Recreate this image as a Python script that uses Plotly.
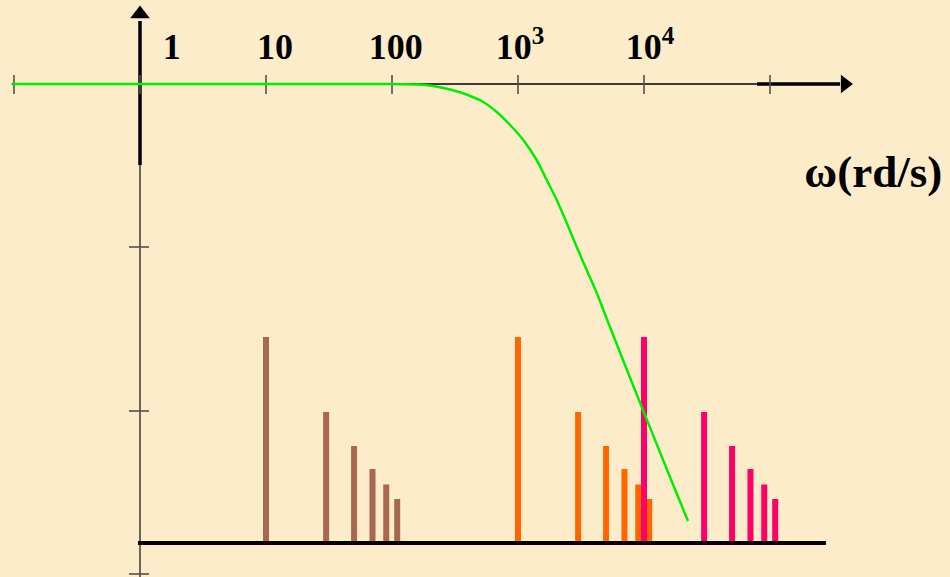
import plotly.graph_objects as go

# ---------------- data ----------------
# harmonic frequencies (rd/s) of the three spectra
freq_brown = [10, 30, 50, 70, 90, 110]
freq_orange = [1000, 3000, 5000, 7000, 9000, 11000]
freq_pink = [10000, 30000, 50000, 70000, 90000, 110000]
# harmonic amplitudes (arbitrary units, same for the three spectra)
amplitudes = [2.06, 1.31, 0.97, 0.74, 0.585, 0.44]

# low-pass filter response curve (frequency, level)
curve_freq = [0.097, 80, 160, 211, 300, 400, 530, 678, 865, 1101, 1406, 1690, 2028,
              2438, 2924, 3508, 4217, 5370, 8790, 16070, 22340]
curve_level = [4.59, 4.59, 4.585, 4.57, 4.53, 4.48, 4.41, 4.31, 4.18, 4.03, 3.83, 3.63, 3.43,
               3.20, 2.96, 2.73, 2.50, 2.16, 1.48, 0.66, 0.22]

# axis decorations
x_tick_vals = [0.1, 1, 10, 100, 1000, 10000, 100000]
x_tick_labels = ["1", "10", "100", "10<sup>3</sup>", "10<sup>4</sup>"]
x_label_pos = [1.79, 11.8, 107, 1040, 11170]
y_tick_vals = [2.96, 1.32, -0.31]
axis_level = 4.59
axis_label = "ω(rd/s)"

BG = "#FCECCA"
fig = go.Figure()

def segs(xs0, xs1, ys0, ys1):
    X, Y = [], []
    for a, b, c, d in zip(xs0, xs1, ys0, ys1):
        X += [a, b, None]
        Y += [c, d, None]
    return X, Y

# vertical axis (thin lower part, thick upper part, arrow)
fig.add_trace(go.Scatter(x=[1, 1], y=[-0.5, 3.78], mode="lines",
                         line=dict(color="#4a4436", width=1.6)))
fig.add_trace(go.Scatter(x=[1, 1], y=[3.78, 5.22], mode="lines",
                         line=dict(color="black", width=3.5)))
fig.add_trace(go.Scatter(x=[1], y=[5.29], mode="markers",
                         marker=dict(symbol="triangle-up", size=17, color="black")))
# y ticks
X, Y = segs([0.818] * 3, [1.179] * 3, y_tick_vals, y_tick_vals)
fig.add_trace(go.Scatter(x=X, y=Y, mode="lines", line=dict(color="#555048", width=1.6)))

# horizontal (frequency) axis
fig.add_trace(go.Scatter(x=[0.096, 78800], y=[axis_level] * 2, mode="lines",
                         line=dict(color="black", width=1.6)))
fig.add_trace(go.Scatter(x=[78800, 3.6e5], y=[axis_level] * 2, mode="lines",
                         line=dict(color="black", width=3.5)))
fig.add_trace(go.Scatter(x=[3.93e5], y=[axis_level], mode="markers",
                         marker=dict(symbol="triangle-right", size=16, color="black")))
X, Y = segs(x_tick_vals, x_tick_vals, [axis_level + 0.09] * 7, [axis_level - 0.10] * 7)
fig.add_trace(go.Scatter(x=X, y=Y, mode="lines", line=dict(color="#555048", width=1.6)))

# spectral lines
for fr, col in [(freq_brown, "#A86850"), (freq_orange, "#FF6600"), (freq_pink, "#FF0066")]:
    X, Y = segs(fr, fr, [0] * len(fr), amplitudes)
    fig.add_trace(go.Scatter(x=X, y=Y, mode="lines", line=dict(color=col, width=6)))

# baseline
fig.add_trace(go.Scatter(x=[0.964, 2.78e5], y=[0, 0], mode="lines",
                         line=dict(color="black", width=4)))

# filter curve
fig.add_trace(go.Scatter(x=curve_freq, y=curve_level, mode="lines",
                         line=dict(color="#00EE00", width=2.5, shape="spline", smoothing=0.7)))

# labels
fig.add_trace(go.Scatter(x=x_label_pos, y=[4.93] * len(x_label_pos), mode="text",
                         text=x_tick_labels,
                         textfont=dict(family="Liberation Serif", size=36,
                                       color="black", weight="bold")))
fig.add_trace(go.Scatter(x=[6.6e5], y=[3.67], mode="text", text=[axis_label],
                         textfont=dict(family="Liberation Serif", size=45,
                                       color="black", weight="bold")))

fig.update_layout(
    width=950, height=577, margin=dict(l=0, r=0, t=0, b=0),
    paper_bgcolor=BG, plot_bgcolor=BG, showlegend=False,
    xaxis=dict(type="log", range=[-1.1111, 6.4286], visible=False, fixedrange=True),
    yaxis=dict(range=[-0.34, 5.43], visible=False, fixedrange=True),
)
fig.write_html("out.html", config={"displayModeBar": False},
               post_script="document.body.style.margin='0';")
